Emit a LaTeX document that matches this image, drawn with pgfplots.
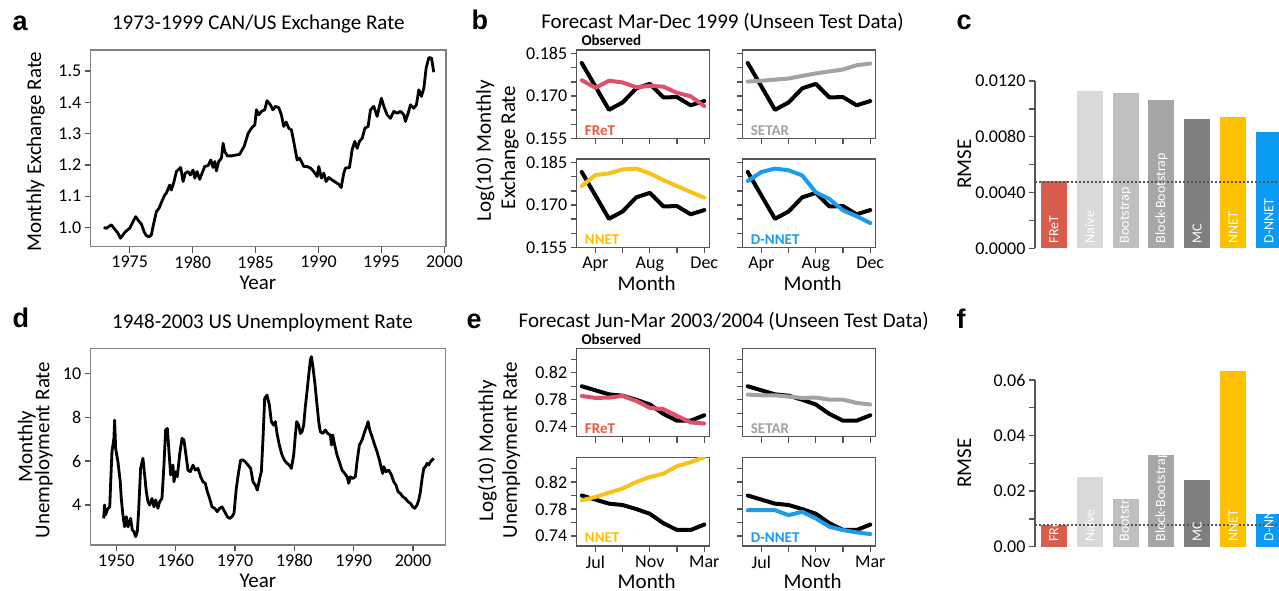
\documentclass[border=0pt]{standalone}
\usepackage{fontspec}
\setmainfont{Carlito}
\newfontfamily\letterfont{Liberation Sans}
\usepackage{pgfplots}
\pgfplotsset{compat=1.18}
\usetikzlibrary{calc}

\definecolor{fretline}{HTML}{E0506A}
\definecolor{frettext}{HTML}{E9573F}
\definecolor{fretbar}{HTML}{D95B4A}
\definecolor{setar}{HTML}{A3A3A3}
\definecolor{nnet}{HTML}{F7C21A}
\definecolor{nnetbar}{HTML}{FFC000}
\definecolor{dnnet}{HTML}{1E9BEA}
\definecolor{dnnetbar}{HTML}{0A9CF5}
\definecolor{naive}{HTML}{D9D9D9}
\definecolor{boot}{HTML}{BFBFBF}
\definecolor{block}{HTML}{A6A6A6}
\definecolor{mc}{HTML}{7F7F7F}
\definecolor{frameA}{HTML}{808080}
\definecolor{frameB}{HTML}{555555}

\newcommand\tickf{\fontsize{18}{18}\selectfont}
\newcommand\labf{\fontsize{21}{25}\selectfont}
\newcommand\obsf{\fontsize{15}{15}\selectfont\bfseries}
\newcommand\barf{\fontsize{14}{14}\selectfont}
\newcommand\panf{\letterfont\fontsize{27}{27}\selectfont\bfseries}

\pgfplotsset{
  tsbox/.style={scale only axis, anchor=south west,
    axis line style={draw=frameA, line width=1.4pt},
    tick style={draw=frameB, line width=1.3pt},
    tick align=outside, tick pos=left, major tick length=6pt,
    ticklabel style={font=\tickf},
    scaled ticks=false,
    /pgf/number format/assume math mode=true,
    xticklabel style={/pgf/number format/1000 sep={}}},
  fcbox/.style={scale only axis, anchor=south west, width=132.6pt, height=88.3pt,
    xmin=-0.37, xmax=9.37, xtick={1,3,5,7,9},
    axis line style={draw=frameB, line width=1.3pt},
    tick style={draw=frameB, line width=1.3pt},
    tick align=outside, tick pos=left, major tick length=6pt,
    ticklabel style={font=\tickf}, scaled ticks=false,
    /pgf/number format/assume math mode=true,
    xticklabels={,,,,,}},
  fcb/.style={fcbox, ymin=0.155, ymax=0.1863,
    ytick={0.155,0.160,0.165,0.170,0.175,0.180,0.185}, yticklabels={,,,,,,,}},
  fce/.style={fcbox, ymin=0.7253, ymax=0.8560,
    ytick={0.74,0.76,0.78,0.80,0.82,0.84}, yticklabels={,,,,,,}},
  obsl/.style={black, line width=4pt, line join=round, line cap=round, no marks},
  fcl/.style={line width=4pt, line join=round, line cap=round, no marks},
  barax/.style={scale only axis, anchor=south west, xmin=-0.53, xmax=7, width=269.6pt,
    axis x line=none, axis y line=left,
    y axis line style={-, draw=frameB, line width=1.3pt},
    every outer y axis line/.append style={-}, every inner y axis line/.append style={-},
    tick style={draw=frameB, line width=1.3pt},
    tick align=outside, major tick length=6pt,
    ticklabel style={font=\tickf}, scaled ticks=false,
    /pgf/number format/assume math mode=true, clip=false},
  bb/.style={ybar, bar width=26pt, bar shift=0pt, draw=none},
  dotl/.style={draw=frameB, line width=2pt, dash pattern=on 2pt off 2pt, no marks}
}

\begin{document}
\begin{tikzpicture}
\path[use as bounding box] (0,0) rectangle (1279pt,-591pt);
\clip (0,0) rectangle (1279pt,-591pt);
\fill[white] (0,0) rectangle (1279pt,-591pt);

% ---------------- panel a
\begin{axis}[tsbox, at={(90.7pt,-246.7pt)}, width=355.3pt, height=196.7pt,
  xmin=1971.9, xmax=2000.13, ymin=0.939, ymax=1.567,
  xtick={1975,1980,1985,1990,1995,2000}, ytick={1.0,1.1,1.2,1.3,1.4,1.5},
  yticklabel style={/pgf/number format/fixed, /pgf/number format/precision=1, /pgf/number format/fixed zerofill}]
\addplot[black, line width=2.8pt, line join=round, no marks] coordinates {
(1972.93,1.000) (1973.15,0.998) (1973.33,1.003) (1973.54,1.009) (1973.81,0.995) (1974.07,0.982) (1974.26,0.966) (1974.47,0.977) (1974.66,0.987) (1975.0,0.998) (1975.26,1.019) (1975.48,1.035) (1975.66,1.024) (1975.93,1.011) (1976.14,0.987) (1976.32,0.974) (1976.54,0.971) (1976.72,0.977) (1976.85,1.003) (1977.12,1.051) (1977.33,1.062) (1977.57,1.085) (1977.78,1.104) (1977.91,1.110) (1978.18,1.136) (1978.31,1.120) (1978.52,1.147) (1978.71,1.179) (1978.84,1.184) (1979.05,1.192) (1979.24,1.147) (1979.42,1.174) (1979.64,1.179) (1979.82,1.168) (1980.03,1.184) (1980.17,1.158) (1980.35,1.179) (1980.56,1.154) (1980.75,1.174) (1980.96,1.195) (1981.23,1.198) (1981.44,1.216) (1981.62,1.192) (1981.76,1.211) (1981.89,1.181) (1982.07,1.211) (1982.29,1.222) (1982.42,1.269) (1982.55,1.243) (1982.76,1.229) (1983.08,1.229) (1983.48,1.232) (1983.74,1.234) (1983.88,1.245) (1984.09,1.259) (1984.41,1.301) (1984.67,1.317) (1984.94,1.328) (1985.07,1.376) (1985.25,1.360) (1985.47,1.371) (1985.73,1.376) (1985.91,1.405) (1986.18,1.392) (1986.37,1.376) (1986.58,1.387) (1986.84,1.383) (1987.05,1.360) (1987.24,1.323) (1987.43,1.337) (1987.64,1.317) (1987.85,1.312) (1988.03,1.275) (1988.30,1.216) (1988.48,1.222) (1988.64,1.211) (1988.83,1.195) (1989.09,1.195) (1989.36,1.190) (1989.62,1.179) (1989.89,1.163) (1990.02,1.195) (1990.23,1.158) (1990.42,1.174) (1990.60,1.147) (1990.82,1.160) (1991.08,1.152) (1991.35,1.145) (1991.61,1.138) (1991.80,1.128) (1992.01,1.174) (1992.14,1.190) (1992.46,1.192) (1992.67,1.248) (1992.88,1.275) (1993.07,1.253) (1993.25,1.275) (1993.47,1.285) (1993.68,1.317) (1993.94,1.323) (1994.13,1.376) (1994.39,1.387) (1994.66,1.355) (1994.84,1.387) (1995.00,1.413) (1995.19,1.387) (1995.45,1.360) (1995.72,1.349) (1995.98,1.371) (1996.25,1.365) (1996.51,1.371) (1996.78,1.360) (1996.91,1.339) (1997.12,1.365) (1997.31,1.392) (1997.57,1.381) (1997.78,1.392) (1997.97,1.440) (1998.18,1.419) (1998.37,1.445) (1998.55,1.509) (1998.77,1.543) (1998.98,1.541) (1999.16,1.496)};
\end{axis}

% ---------------- panel d
\begin{axis}[tsbox, at={(90.7pt,-545pt)}, width=354.6pt, height=196.7pt,
  xmin=1945.69, xmax=2005.43, ymin=2.18, ymax=11.14,
  xtick={1950,1960,1970,1980,1990,2000}, ytick={4,6,8,10}]
\addplot[black, line width=2.8pt, line join=round, no marks] coordinates {
(1947.87,3.39) (1948.03,4.00) (1948.2,3.55) (1948.5,3.80) (1948.9,3.92) (1949.04,4.91) (1949.27,6.43) (1949.6,7.04) (1949.72,7.87) (1949.89,6.58) (1950.28,5.97) (1950.67,5.06) (1950.84,4.30) (1951.12,3.54) (1951.40,3.01) (1951.69,3.47) (1951.97,3.01) (1952.42,3.39) (1952.70,2.86) (1952.98,2.79) (1953.26,2.56) (1953.54,2.79) (1953.76,3.70) (1954.10,5.67) (1954.49,6.13) (1954.78,5.37) (1955.06,4.61) (1955.34,4.15) (1955.62,4.00) (1956.01,4.30) (1956.35,3.92) (1956.63,4.23) (1957.02,3.85) (1957.30,4.15) (1957.70,4.30) (1958.03,5.82) (1958.31,7.42) (1958.60,7.49) (1958.88,6.43) (1959.16,5.37) (1959.55,5.82) (1959.72,5.06) (1960.00,5.52) (1960.28,5.29) (1960.67,6.28) (1961.07,7.04) (1961.40,6.96) (1961.74,6.28) (1962.08,5.59) (1962.47,5.52) (1962.92,5.82) (1963.31,5.59) (1963.76,5.67) (1964.21,5.29) (1964.61,5.06) (1965.00,4.99) (1965.34,4.61) (1965.73,4.30) (1966.12,3.92) (1966.57,3.85) (1967.02,3.70) (1967.42,3.85) (1967.81,3.92) (1968.26,3.70) (1968.71,3.47) (1969.10,3.39) (1969.49,3.47) (1969.83,3.62) (1970.22,4.76) (1970.62,5.52) (1970.96,6.05) (1971.35,6.05) (1971.74,5.97) (1972.19,5.82) (1972.64,5.67) (1973.03,5.06) (1973.43,4.91) (1973.76,4.68) (1974.16,5.21) (1974.44,5.52) (1974.72,7.04) (1975.00,8.86) (1975.39,9.01) (1975.79,8.56) (1976.12,7.80) (1976.52,7.64) (1976.80,7.80) (1977.08,7.26) (1977.47,6.73) (1977.92,6.28) (1978.31,6.05) (1978.76,5.90) (1979.16,5.82) (1979.49,5.67) (1979.89,6.28) (1980.17,7.19) (1980.39,7.80) (1980.73,7.64) (1981.01,7.26) (1981.29,7.34) (1981.57,7.64) (1981.85,8.48) (1982.13,9.16) (1982.42,9.92) (1982.70,10.61) (1982.86,10.76) (1983.09,10.38) (1983.43,9.62) (1983.82,8.56) (1984.10,7.80) (1984.38,7.34) (1984.78,7.26) (1985.22,7.42) (1985.62,7.26) (1986.07,7.19) (1986.24,6.73) (1986.46,7.19) (1986.80,6.73) (1987.19,6.28) (1987.58,5.97) (1988.03,5.59) (1988.48,5.44) (1988.88,5.29) (1989.16,4.99) (1989.44,5.29) (1989.83,5.21) (1990.28,5.29) (1990.56,5.97) (1990.95,6.73) (1991.40,6.96) (1991.85,7.34) (1992.25,7.64) (1992.42,7.80) (1992.70,7.42) (1993.09,7.11) (1993.54,6.73) (1993.93,6.43) (1994.33,6.05) (1994.66,5.67) (1994.89,5.44) (1995.06,5.75) (1995.45,5.52) (1995.90,5.59) (1996.35,5.37) (1996.74,5.06) (1997.13,4.91) (1997.47,4.61) (1997.87,4.53) (1998.26,4.38) (1998.71,4.30) (1999.16,4.15) (1999.55,4.08) (1999.94,3.92) (2000.28,3.85) (2000.67,4.00) (2000.96,4.23) (2001.24,4.61) (2001.52,5.21) (2001.80,5.67) (2002.08,5.75) (2002.36,5.90) (2002.64,5.82) (2002.92,5.97) (2003.20,6.05) (2003.48,6.13)};
\end{axis}

% ---------------- panel b
\begin{axis}[fcb, at={(576.7pt,-138.3pt)}, yticklabels={0.155,,,0.170,,,0.185}]
\addplot[obsl] coordinates {(0,0.1817) (1,0.1734) (2,0.1651) (3,0.1677) (4,0.1727) (5,0.1743) (6,0.1695) (7,0.1696) (8,0.1667) (9,0.1682)};
\addplot[fcl, fretline] coordinates {(0,0.1756) (1,0.1729) (2,0.1754) (3,0.1748) (4,0.1731) (5,0.1736) (6,0.1733) (7,0.1711) (8,0.1699) (9,0.1664)};
\node[anchor=base west, font=\obsf, text=frettext] at (rel axis cs:0.035,0.035) {FReT};
\end{axis}
\begin{axis}[fcb, at={(742.7pt,-138.3pt)}]
\addplot[obsl] coordinates {(0,0.1817) (1,0.1734) (2,0.1651) (3,0.1677) (4,0.1727) (5,0.1743) (6,0.1695) (7,0.1696) (8,0.1667) (9,0.1682)};
\addplot[fcl, setar] coordinates {(0,0.1751) (1,0.1754) (2,0.1758) (3,0.1762) (4,0.1771) (5,0.1780) (6,0.1787) (7,0.1794) (8,0.1809) (9,0.1815)};
\node[anchor=base west, font=\obsf, text=setar] at (rel axis cs:0.035,0.035) {SETAR};
\end{axis}
\begin{axis}[fcb, at={(576.7pt,-247.3pt)}, yticklabels={0.155,,,0.170,,,0.185}, xticklabels={Apr,,Aug,,Dec}]
\addplot[obsl] coordinates {(0,0.1817) (1,0.1734) (2,0.1651) (3,0.1677) (4,0.1727) (5,0.1743) (6,0.1695) (7,0.1696) (8,0.1667) (9,0.1682)};
\addplot[fcl, nnet] coordinates {(0,0.1767) (1,0.1806) (2,0.1812) (3,0.1826) (4,0.1829) (5,0.1812) (6,0.1788) (7,0.1767) (8,0.1746) (9,0.1726)};
\node[anchor=base west, font=\obsf, text=nnetbar] at (rel axis cs:0.035,0.035) {NNET};
\end{axis}
\begin{axis}[fcb, at={(742.7pt,-247.3pt)}, xticklabels={Apr,,Aug,,Dec}]
\addplot[obsl] coordinates {(0,0.1817) (1,0.1734) (2,0.1651) (3,0.1677) (4,0.1727) (5,0.1743) (6,0.1695) (7,0.1696) (8,0.1667) (9,0.1682)};
\addplot[fcl, dnnet] coordinates {(0,0.1785) (1,0.1817) (2,0.1829) (3,0.1823) (4,0.1805) (5,0.1745) (6,0.1721) (7,0.1681) (8,0.1660) (9,0.1636)};
\node[anchor=base west, font=\obsf, text=dnnet] at (rel axis cs:0.035,0.035) {D-NNET};
\end{axis}

% ---------------- panel e
\begin{axis}[fce, at={(576.7pt,-436.7pt)}, yticklabels={0.74,,0.78,,0.82,}]
\addplot[obsl] coordinates {(0,0.800) (1,0.794) (2,0.788) (3,0.786) (4,0.780) (5,0.773) (6,0.759) (7,0.749) (8,0.749) (9,0.757)};
\addplot[fcl, fretline] coordinates {(0,0.7856) (1,0.7827) (2,0.7832) (3,0.7856) (4,0.7783) (5,0.7680) (6,0.7660) (7,0.7562) (8,0.7464) (9,0.7449)};
\node[anchor=base west, font=\obsf, text=frettext] at (rel axis cs:0.035,0.035) {FReT};
\end{axis}
\begin{axis}[fce, at={(742.7pt,-436.7pt)}]
\addplot[obsl] coordinates {(0,0.800) (1,0.794) (2,0.788) (3,0.786) (4,0.780) (5,0.773) (6,0.759) (7,0.749) (8,0.749) (9,0.757)};
\addplot[fcl, setar] coordinates {(0,0.7876) (1,0.7866) (2,0.7866) (3,0.7847) (4,0.7827) (5,0.7832) (6,0.7802) (7,0.7802) (8,0.7753) (9,0.7729)};
\node[anchor=base west, font=\obsf, text=setar] at (rel axis cs:0.035,0.035) {SETAR};
\end{axis}
\begin{axis}[fce, at={(576.7pt,-546pt)}, yticklabels={0.74,,0.78,,0.82,}, xticklabels={Jul,,Nov,,Mar}]
\addplot[obsl] coordinates {(0,0.800) (1,0.794) (2,0.788) (3,0.786) (4,0.780) (5,0.773) (6,0.759) (7,0.749) (8,0.749) (9,0.757)};
\addplot[fcl, nnet] coordinates {(0,0.7930) (1,0.7979) (2,0.8043) (3,0.8102) (4,0.8200) (5,0.8274) (6,0.8323) (7,0.8436) (8,0.8494) (9,0.8568)};
\node[anchor=base west, font=\obsf, text=nnetbar] at (rel axis cs:0.035,0.035) {NNET};
\end{axis}
\begin{axis}[fce, at={(742.7pt,-546pt)}, xticklabels={Jul,,Nov,,Mar}]
\addplot[obsl] coordinates {(0,0.800) (1,0.794) (2,0.788) (3,0.786) (4,0.780) (5,0.773) (6,0.759) (7,0.749) (8,0.749) (9,0.757)};
\addplot[fcl, dnnet] coordinates {(0,0.7783) (1,0.7783) (2,0.7783) (3,0.7710) (4,0.7759) (5,0.7661) (6,0.7538) (7,0.7489) (8,0.7455) (9,0.7430)};
\node[anchor=base west, font=\obsf, text=dnnet] at (rel axis cs:0.035,0.035) {D-NNET};
\end{axis}

% ---------------- panel c
\begin{axis}[barax, at={(1035pt,-248.3pt)}, height=167.3pt, ymin=0, ymax=0.012,
  ytick={0,0.002,0.004,0.006,0.008,0.010,0.012},
  yticklabels={0.0000,,0.0040,,0.0080,,0.0120}]
\addplot[bb, fill=fretbar] coordinates {(0,0.00483)};
\addplot[bb, fill=naive] coordinates {(1,0.01131)};
\addplot[bb, fill=boot] coordinates {(2,0.01116)};
\addplot[bb, fill=block] coordinates {(3,0.01066)};
\addplot[bb, fill=mc] coordinates {(4,0.00927)};
\addplot[bb, fill=nnetbar] coordinates {(5,0.00942)};
\addplot[bb, fill=dnnetbar] coordinates {(6,0.00832)};
\addplot[dotl] coordinates {(-0.53,0.00478) (7,0.00478)};
\coordinate (cL0) at (axis cs:-0.363,0); \coordinate (cH0) at (axis cs:0.363,0.00483);
\coordinate (cL1) at (axis cs:0.637,0); \coordinate (cH1) at (axis cs:1.363,0.01131);
\coordinate (cL2) at (axis cs:1.637,0); \coordinate (cH2) at (axis cs:2.363,0.01116);
\coordinate (cL3) at (axis cs:2.637,0); \coordinate (cH3) at (axis cs:3.363,0.01066);
\coordinate (cL4) at (axis cs:3.637,0); \coordinate (cH4) at (axis cs:4.363,0.00927);
\coordinate (cL5) at (axis cs:4.637,0); \coordinate (cH5) at (axis cs:5.363,0.00942);
\coordinate (cL6) at (axis cs:5.637,0); \coordinate (cH6) at (axis cs:6.363,0.00832);
\end{axis}

% ---------------- panel f
\begin{axis}[barax, at={(1035pt,-546.7pt)}, height=166.7pt, ymin=0, ymax=0.06,
  ytick={0,0.01,0.02,0.03,0.04,0.05,0.06},
  yticklabels={0.00,,0.02,,0.04,,0.06}]
\addplot[bb, fill=fretbar] coordinates {(0,0.0078)};
\addplot[bb, fill=naive] coordinates {(1,0.0251)};
\addplot[bb, fill=boot] coordinates {(2,0.0170)};
\addplot[bb, fill=block] coordinates {(3,0.0330)};
\addplot[bb, fill=mc] coordinates {(4,0.0240)};
\addplot[bb, fill=nnetbar] coordinates {(5,0.0632)};
\addplot[bb, fill=dnnetbar] coordinates {(6,0.0116)};
\addplot[dotl] coordinates {(-0.53,0.0077) (7,0.0077)};
\coordinate (fL0) at (axis cs:-0.363,0); \coordinate (fH0) at (axis cs:0.363,0.0078);
\coordinate (fL1) at (axis cs:0.637,0); \coordinate (fH1) at (axis cs:1.363,0.0251);
\coordinate (fL2) at (axis cs:1.637,0); \coordinate (fH2) at (axis cs:2.363,0.0170);
\coordinate (fL3) at (axis cs:2.637,0); \coordinate (fH3) at (axis cs:3.363,0.0330);
\coordinate (fL4) at (axis cs:3.637,0); \coordinate (fH4) at (axis cs:4.363,0.0240);
\coordinate (fL5) at (axis cs:4.637,0); \coordinate (fH5) at (axis cs:5.363,0.0632);
\coordinate (fL6) at (axis cs:5.637,0); \coordinate (fH6) at (axis cs:6.363,0.0116);
\end{axis}

\foreach \p in {c,f}{
 \foreach \i/\lab in {0/FReT,1/Naïve,2/Bootstrap,3/Block-Bootstrap,4/MC,5/NNET,6/D-NNET}{
  \begin{scope}
   \clip (\p L\i) rectangle (\p H\i);
   \node[rotate=90, anchor=west, text=white, font=\barf, inner sep=0pt] at ([shift={(13pt,5pt)}]\p L\i) {\lab};
  \end{scope}
 }
}

% ---------------- texts
\node[anchor=base west, font=\panf] at (9pt,-31pt) {a};
\node[anchor=base west, font=\panf] at (468pt,-30pt) {b};
\node[anchor=base west, font=\panf] at (953pt,-30pt) {c};
\node[anchor=base west, font=\panf] at (9pt,-327pt) {d};
\node[anchor=base west, font=\panf] at (463pt,-328pt) {e};
\node[anchor=base west, font=\panf] at (953pt,-328pt) {f};

\node[anchor=base, font=\labf] at (258.3pt,-29.3pt) {1973-1999 CAN/US Exchange Rate};
\node[anchor=base, font=\labf] at (722.5pt,-28.3pt) {Forecast Mar-Dec 1999 (Unseen Test Data)};
\node[anchor=base, font=\labf] at (262.5pt,-328pt) {1948-2003 US Unemployment Rate};
\node[anchor=base, font=\labf] at (723.7pt,-327.3pt) {Forecast Jun-Mar 2003/2004 (Unseen Test Data)};

\node[anchor=base west, font=\obsf] at (578pt,-46pt) {Observed};
\node[anchor=base west, font=\obsf] at (578pt,-344pt) {Observed};

\node[anchor=base, font=\labf] at (258pt,-289pt) {Year};
\node[anchor=base, font=\labf] at (258pt,-587pt) {Year};
\node[anchor=base, font=\labf] at (646.7pt,-290pt) {Month};
\node[anchor=base, font=\labf] at (812.7pt,-290pt) {Month};
\node[anchor=base, font=\labf] at (646.7pt,-588pt) {Month};
\node[anchor=base, font=\labf] at (812.7pt,-588pt) {Month};

\node[anchor=base, rotate=90, font=\labf] at (41pt,-151.7pt) {Monthly Exchange Rate};
\node[anchor=base, rotate=90, font=\labf] at (32.3pt,-446.7pt) {Monthly};
\node[anchor=base, rotate=90, font=\labf] at (49.3pt,-450pt) {Unemployment Rate};
\node[anchor=base, rotate=90, font=\labf] at (490.8pt,-150.8pt) {Log(10) Monthly};
\node[anchor=base, rotate=90, font=\labf] at (515pt,-147.5pt) {Exchange Rate};
\node[anchor=base, rotate=90, font=\labf] at (493pt,-450.8pt) {Log(10) Monthly};
\node[anchor=base, rotate=90, font=\labf] at (516.8pt,-450pt) {Unemployment Rate};
\node[anchor=base, rotate=90, font=\labf] at (971pt,-164pt) {RMSE};
\node[anchor=base, rotate=90, font=\labf] at (971pt,-463pt) {RMSE};
\end{tikzpicture}
\end{document}
